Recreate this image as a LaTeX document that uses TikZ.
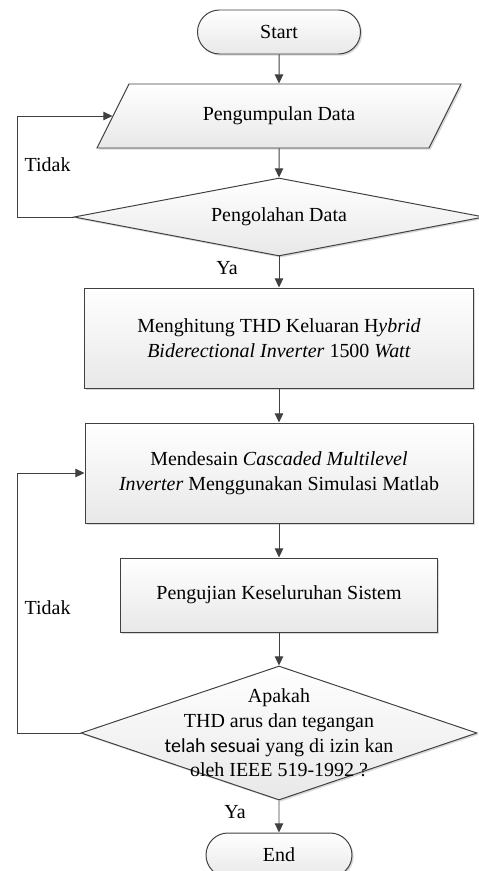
\documentclass[tikz,border=0pt]{standalone}
\usepackage{fontspec}
\setmainfont{Liberation Serif}
\newfontfamily\calfont{Carlito}
\usetikzlibrary{shapes.geometric,shapes.misc,shadows,arrows.meta}

\begin{document}
\begin{tikzpicture}[
    line/.style={draw=black!75, line width=0.7pt},
    arr/.style={line, -{Triangle[length=6.5pt,width=6pt]}},
    boxbase/.style={line, top color=white, bottom color=black!9,
      drop shadow={shadow xshift=1.2pt, shadow yshift=-1.2pt, fill=black!25, opacity=.6},
      align=center, inner sep=0pt, font=\fontsize{14.2}{17.5}\selectfont},
    terminal/.style={boxbase, rounded rectangle, minimum width=#1, minimum height=1.1cm},
    process/.style={boxbase, rectangle, minimum width=#1},
    inout/.style={boxbase, trapezium, trapezium left angle=63.4, trapezium right angle=116.6,
      trapezium stretches body, text height=0.35cm, text depth=0.1cm, inner ysep=0.575cm,
      minimum width=9.1cm},
    decision/.style={boxbase, diamond, minimum width=#1},
    lbl/.style={align=center, font=\fontsize{14.2}{17.5}\selectfont}
  ]

  \useasboundingbox (0,0) rectangle (11.95,-21.775);

  % Start and input
  \node[terminal=4.075cm] (start) at (6.975,-0.8) {Start};
  \node[inout] (data) at (6.975,-2.9) {Pengumpulan Data};

  % First check
  \node[decision=10.25cm, minimum height=1.95cm] (olah) at (6.975,-5.425) {};
  \node[lbl] (olahtxt) at (olah.center) {Pengolahan Data};

  % Processes
  \node[process=9.725cm, minimum height=2.5cm] (hitung) at (6.975,-8.45)
    {Menghitung THD Keluaran H\textit{ybrid}\\\textit{Biderectional Inverter} 1500 \textit{Watt}};
  \node[process=9.7cm, minimum height=2.5cm] (desain) at (6.975,-11.825)
    {Mendesain \textit{Cascaded Multilevel}\\\textit{Inverter} Menggunakan Simulasi Matlab};
  \node[process=7.925cm, minimum height=1.85cm] (uji) at (6.975,-14.875)
    {Pengujian Keseluruhan Sistem};

  % Second check
  \node[decision=9.9cm, minimum height=3.35cm] (cek) at (6.975,-18.325) {};
  \node[lbl] (cektxt) at (cek.center)
    {Apakah\\THD arus dan tegangan\\{\calfont telah sesuai} yang di izin kan\\oleh IEEE 519-1992 ?};

  % End
  \node[terminal=3.65cm] (end) at (6.975,-21.375) {End};

  % Main flow
  \draw[arr] (start) -- (data);
  \draw[arr] (data) -- (olah);
  \draw[arr] (olah) -- (hitung);
  \draw[arr] (hitung) -- (desain);
  \draw[arr] (desain) -- (uji);
  \draw[arr] (uji) -- (cek);
  \draw[arr] (cek) -- (end);

  % Loops back
  \coordinate (kiri) at (0.425,0);
  \draw[arr] (olah.west) -- (olah.west -| kiri) |- (data.left side);
  \draw[arr] (cek.west) -- (cek.west -| kiri) |- (desain.west);

  % Labels
  \node[lbl] (tidak1) at (1.19,-4.125) {Tidak};
  \node[lbl] (ya1) at (5.675,-6.7) {Ya};
  \node[lbl] (tidak2) at (1.19,-15.2) {Tidak};
  \node[lbl] (ya2) at (5.875,-20.3) {Ya};

\end{tikzpicture}
\end{document}
